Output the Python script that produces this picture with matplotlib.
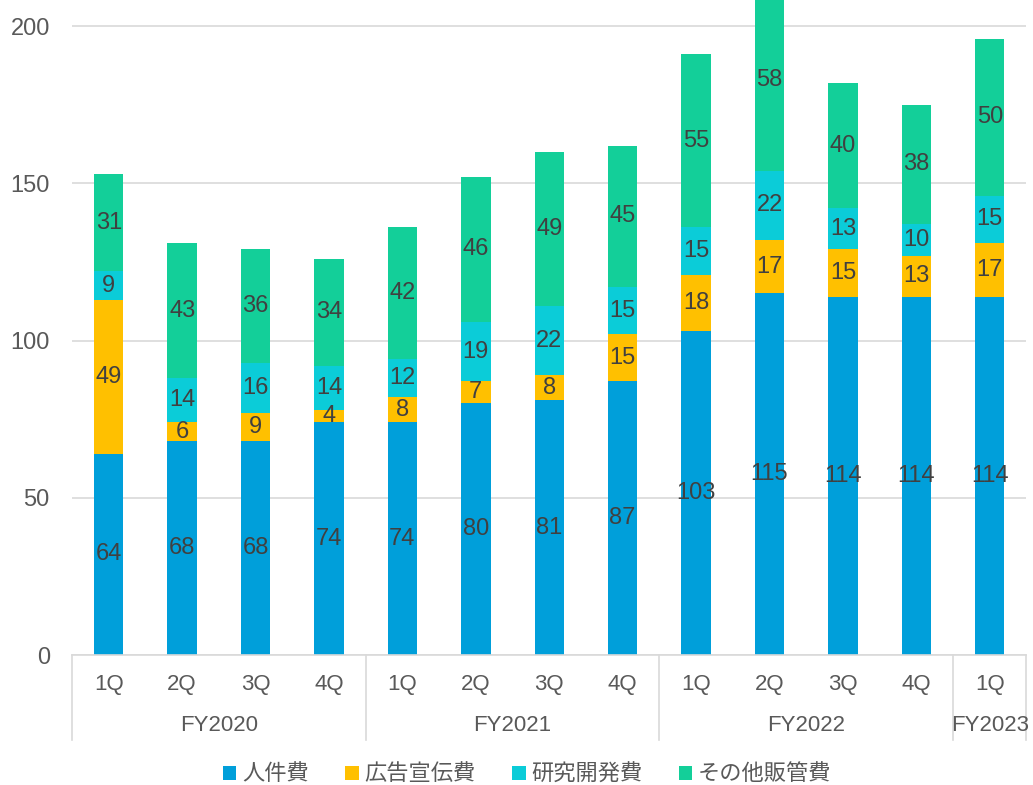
import numpy as np
import matplotlib.pyplot as plt

plt.rcParams['font.family'] = ['Liberation Sans', 'Noto Sans CJK JP']

quarters = ['1Q', '2Q', '3Q', '4Q', '1Q', '2Q', '3Q', '4Q', '1Q', '2Q', '3Q', '4Q', '1Q']
years = ['FY2020', 'FY2021', 'FY2022', 'FY2023']
year_sizes = [4, 4, 4, 1]

personnel = [64, 68, 68, 74, 74, 80, 81, 87, 103, 115, 114, 114, 114]
advertising = [49, 6, 9, 4, 8, 7, 8, 15, 18, 17, 15, 13, 17]
research = [9, 14, 16, 14, 12, 19, 22, 15, 15, 22, 13, 10, 15]
other_sga = [31, 43, 36, 34, 42, 46, 49, 45, 55, 58, 40, 38, 50]

series = [
    ('人件費', personnel, '#009FDA'),
    ('広告宣伝費', advertising, '#FFC000'),
    ('研究開発費', research, '#0BCCD8'),
    ('その他販管費', other_sga, '#13CF99'),
]

fig = plt.figure(figsize=(10.33, 7.85), dpi=100)
ax = fig.add_axes([0.0697, 0.1656, 0.924, 0.8344])

x = np.arange(len(quarters))
bottom = np.zeros(len(quarters))
for name, vals, color in series:
    vals = np.array(vals, dtype=float)
    ax.bar(x, vals, 0.4, bottom=bottom, color=color, label=name, zorder=2)
    for xi, b, v in zip(x, bottom, vals):
        ax.text(xi, b + v / 2, f'{int(v)}', ha='center', va='center',
                fontsize=17, color='#404040', zorder=3)
    bottom += vals

ax.set_xlim(-0.5, len(quarters) - 0.5)
ax.set_ylim(0, 208.3)
ax.set_yticks([0, 50, 100, 150, 200])
ax.tick_params(axis='y', length=0, labelsize=17, labelcolor='#595959', pad=16)
ax.set_xticks([])
ax.grid(axis='y', color='#D9D9D9', linewidth=1.2, zorder=0)
for s in ['left', 'right', 'top']:
    ax.spines[s].set_visible(False)
ax.spines['bottom'].set_color('#D9D9D9')
ax.spines['bottom'].set_linewidth(1.2)

trans = ax.get_xaxis_transform()

# category axis labels
for xi, q in zip(x, quarters):
    ax.text(xi, -0.045, q, transform=trans, ha='center', va='center',
            fontsize=16, color='#595959')

start = -0.5
bounds = [start]
for name, n in zip(years, year_sizes):
    end = start + n
    center = (start + end) / 2
    ax.text(center, -0.108, name, transform=trans, ha='center', va='center',
            fontsize=16, color='#595959')
    bounds.append(end)
    start = end
for bx in bounds:
    ax.plot([bx, bx], [0, -0.13], transform=trans, color='#D9D9D9', linewidth=1.2, clip_on=False)

ax.legend(loc='center', bbox_to_anchor=(0.477, -0.183), ncol=4, frameon=False,
          fontsize=16, handlelength=0.6, handleheight=0.6, handletextpad=0.25,
          columnspacing=1.65, labelcolor='#595959', borderpad=0)

fig.savefig('out.png', dpi=100)
